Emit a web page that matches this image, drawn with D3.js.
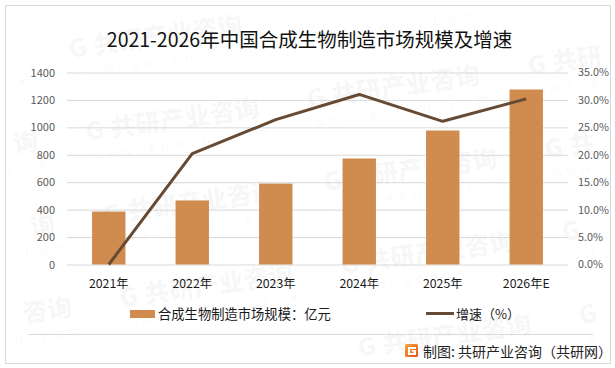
<!DOCTYPE html>
<html><head><meta charset="utf-8">
<script src="https://cdn.jsdelivr.net/npm/d3@7"></script>
<style>html,body{margin:0;padding:0;background:#fff}svg{display:block}
text{font-family:"Noto Sans CJK SC","Noto Sans",sans-serif}</style></head>
<body><svg id="c" width="615" height="368"></svg>
<script>
const categories=["2021年","2022年","2023年","2024年","2025年","2026年E"];
const marketSize=[386,467,590,773,977,1276];
const growth=[0,20.2,26.4,31.0,26.1,30.2];
const leftTicks=[0,200,400,600,800,1000,1200,1400];
const rightTicks=[0,5,10,15,20,25,30,35];
const title="2021-2026年中国合成生物制造市场规模及增速";
const barName="合成生物制造市场规模：亿元";
const lineName="增速（%）";
const source="制图: 共研产业咨询（共研网）";
const wmMain=["G","共","研","产","业","咨","询"];
const wmSub=["w","w","w",".","g","o","n","y","n",".","c","o","m"];
const wmCols=[-1,0,1,2,3];
const wmRows=[-2,-1,0,1,2,3];

const svg=d3.select("#c");
const barColor="#d08c4f",lineColor="#664a33",grid="#d9d9d9";
svg.append("rect").attr("x",5.5).attr("y",5.5).attr("width",605).attr("height",358).attr("fill","#fff").attr("stroke",grid).attr("stroke-width",1);

// watermark lattice: each glyph is placed on its own and kept only if it fits inside the frame
const wm=svg.append("g").attr("pointer-events","none");
const inFrame=(p,q,m)=>p>6+m&&p<609-m&&q>6+m&&q<362-m;
const rot=-8*Math.PI/180;
function glyph(ox,oy,dx,dy,ch,size,weight,fill){
  const p=ox+dx*Math.cos(rot)-dy*Math.sin(rot), q=oy+dx*Math.sin(rot)+dy*Math.cos(rot);
  if(!inFrame(p+size/2,q-size/2,size/2+2)) return;
  wm.append("text").attr("transform",`translate(${p},${q}) rotate(-8)`)
    .attr("font-size",size).attr("font-weight",weight).attr("fill",fill).text(ch);
}
wmRows.forEach(r=>wmCols.forEach(c=>{
  const ox=87+221*c+17*r, oy=141-33*c+83*r;
  wmMain.forEach((ch,i)=>glyph(ox,oy,i*25,0,ch,25,900,"rgba(0,0,0,0.045)"));
  wmSub.forEach((ch,i)=>glyph(ox,oy,5+i*13.6,20,ch,13,400,"rgba(0,0,0,0.04)"));
}));

const x=d3.scaleBand().domain(categories).range([67,568]).paddingInner(0.6).paddingOuter(0.3);
const xC=d=>x(d)+x.bandwidth()/2;
const yL=d3.scaleLinear().domain([0,1400]).range([264.5,72.5]);
const yR=d3.scaleLinear().domain([0,35]).range([264.5,72.5]);

const gl=svg.append("g").attr("transform","translate(67,0)")
 .call(d3.axisLeft(yL).tickValues(leftTicks).tickSize(-501).tickPadding(12).tickFormat(d3.format("d")));
gl.select(".domain").remove();
gl.selectAll("line").attr("stroke",grid);
gl.selectAll("text").attr("fill","#595959").attr("font-size",11);

const gr=svg.append("g").attr("transform","translate(568,0)")
 .call(d3.axisRight(yR).tickValues(rightTicks).tickSize(0).tickPadding(10).tickFormat(d=>d.toFixed(1)+"%"));
gr.select(".domain").remove();
gr.selectAll("text").attr("fill","#595959").attr("font-size",10.8);

svg.append("g").selectAll("rect").data(categories).join("rect")
 .attr("x",d=>x(d)).attr("width",x.bandwidth())
 .attr("y",(d,i)=>yL(marketSize[i])).attr("height",(d,i)=>yL(0)-yL(marketSize[i]))
 .attr("fill",barColor);

svg.append("path").attr("fill","none").attr("stroke",lineColor).attr("stroke-width",3).attr("stroke-linejoin","round")
 .attr("d",d3.line().x((d,i)=>xC(categories[i])).y(d=>yR(d))(growth));

const gx=svg.append("g").attr("transform","translate(0,264)")
 .call(d3.axisBottom(x).tickSize(0).tickPadding(15));
gx.select(".domain").remove();
gx.selectAll("text").attr("fill","#1a1a1a").attr("font-size",12.3);

svg.append("text").attr("x",309.5).attr("y",47).attr("text-anchor","middle").attr("font-size",19.5).attr("fill","#111").text(title);

// legend
svg.append("rect").attr("x",130).attr("y",310).attr("width",25).attr("height",8).attr("fill",barColor);
svg.append("text").attr("x",158).attr("y",319).attr("font-size",13.3).attr("fill","#1a1a1a").text(barName);
svg.append("line").attr("x1",426).attr("x2",454).attr("y1",313.5).attr("y2",313.5).attr("stroke",lineColor).attr("stroke-width",3);
svg.append("text").attr("x",456).attr("y",319).attr("font-size",13).attr("fill","#1a1a1a").text(lineName);

// footer
svg.append("line").attr("x1",28).attr("x2",593).attr("y1",334.5).attr("y2",334.5).attr("stroke",grid);
const defs=svg.append("defs").append("linearGradient").attr("id","lg").attr("x1",0).attr("y1",0).attr("x2",1).attr("y2",1);
defs.append("stop").attr("offset",0).attr("stop-color","#f9a63a");
defs.append("stop").attr("offset",1).attr("stop-color","#e8501f");
const logo=svg.append("g").attr("transform","translate(405,344)");
logo.append("rect").attr("width",13).attr("height",13).attr("rx",1.5).attr("fill","url(#lg)");
logo.append("path").attr("d","M3 3H11V5H5V9H8.5V7.5H6.5V6H11V11H3Z").attr("fill","#fff");
svg.append("text").attr("x",423).attr("y",356.5).attr("font-size",14).attr("fill","#222").text(source);
</script></body></html>
